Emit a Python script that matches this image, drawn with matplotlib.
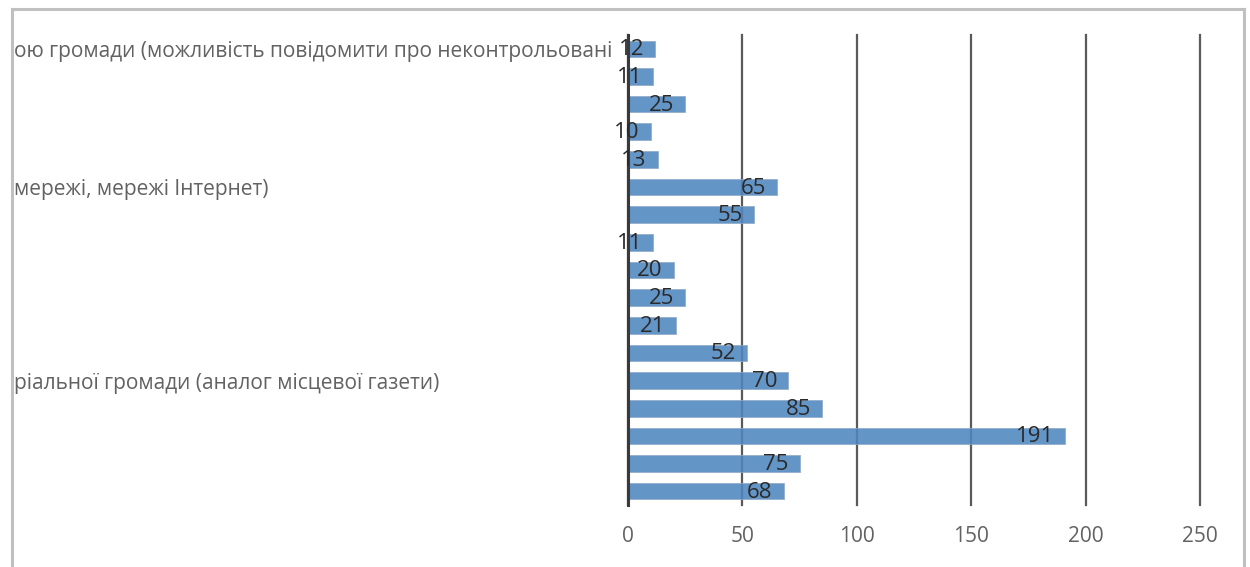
import matplotlib
matplotlib.use("Agg")
import matplotlib.pyplot as plt
from matplotlib.lines import Line2D
from matplotlib.transforms import Bbox, TransformedBbox

categories = [
    "ою громади (можливість повідомити про неконтрольовані",
    "", "", "", "",
    "мережі, мережі Інтернет)",
    "", "", "", "", "", "",
    "ріальної громади (аналог місцевої газети)",
    "", "", "", "",
]
values = [12, 11, 25, 10, 13, 65, 55, 11, 20, 25, 21, 52, 70, 85, 191, 75, 68]
xticks = [0, 50, 100, 150, 200, 250]

W, H = 1250, 567
fig = plt.figure(figsize=(W / 100, H / 100), dpi=100)
fig.patch.set_facecolor("white")
font = "Open Sans"

ax = fig.add_axes([628 / W, 1 - 505 / H, (1200 - 628) / W, (505 - 35) / H])
pos = list(range(len(values)))
ax.barh(pos, values, height=0.6, color="#4f86c0", alpha=0.88,
        edgecolor="#8fa9c4", linewidth=0.6, zorder=3)
ax.set_ylim(len(values) - 0.5, -0.5)
ax.set_xlim(0, 250)
ax.set_xticks(xticks)
ax.set_xticklabels([str(t) for t in xticks], fontfamily=font, fontsize=15, color="#626262")
ax.set_yticks(pos)
ax.set_yticklabels(categories, fontfamily=font, fontsize=15, color="#626262", ha="left")
ax.tick_params(axis="both", length=0)
ax.tick_params(axis="y", pad=(628 - 14) * 0.72)
ax.tick_params(axis="x", pad=15)
ax.grid(axis="x", color="#5a5a5a", linewidth=1.6, zorder=1)
ax.set_axisbelow(True)
for gl in ax.get_xgridlines():
    gl.set_clip_on(False)
for s in ["top", "right", "bottom"]:
    ax.spines[s].set_visible(False)
ax.spines["left"].set_color("#3a3a3a")
ax.spines["left"].set_linewidth(2.2)
ax.spines["left"].set_zorder(4)

clip = TransformedBbox(Bbox([[14 / W, 0], [1, 1]]), fig.transFigure)
for lab in ax.get_yticklabels():
    lab.set_clip_box(clip)
    lab.set_clip_on(True)

for p, v in zip(pos, values):
    ax.annotate(str(v), (v, p), xytext=(-11, -1), textcoords="offset pixels",
                ha="right", va="center", fontfamily=font, fontsize=16,
                color="#2a2a2a", zorder=5)

# chart frame (border)
top = 1 - 9 / H
for xs, ys in [([12 / W, 1244 / W], [top, top]),
               ([12 / W, 12 / W], [0, top]),
               ([1244 / W, 1244 / W], [0, top])]:
    fig.add_artist(Line2D(xs, ys, transform=fig.transFigure,
                          color="#c0c0c0", linewidth=2.2))

fig.savefig("out.png", dpi=100)
